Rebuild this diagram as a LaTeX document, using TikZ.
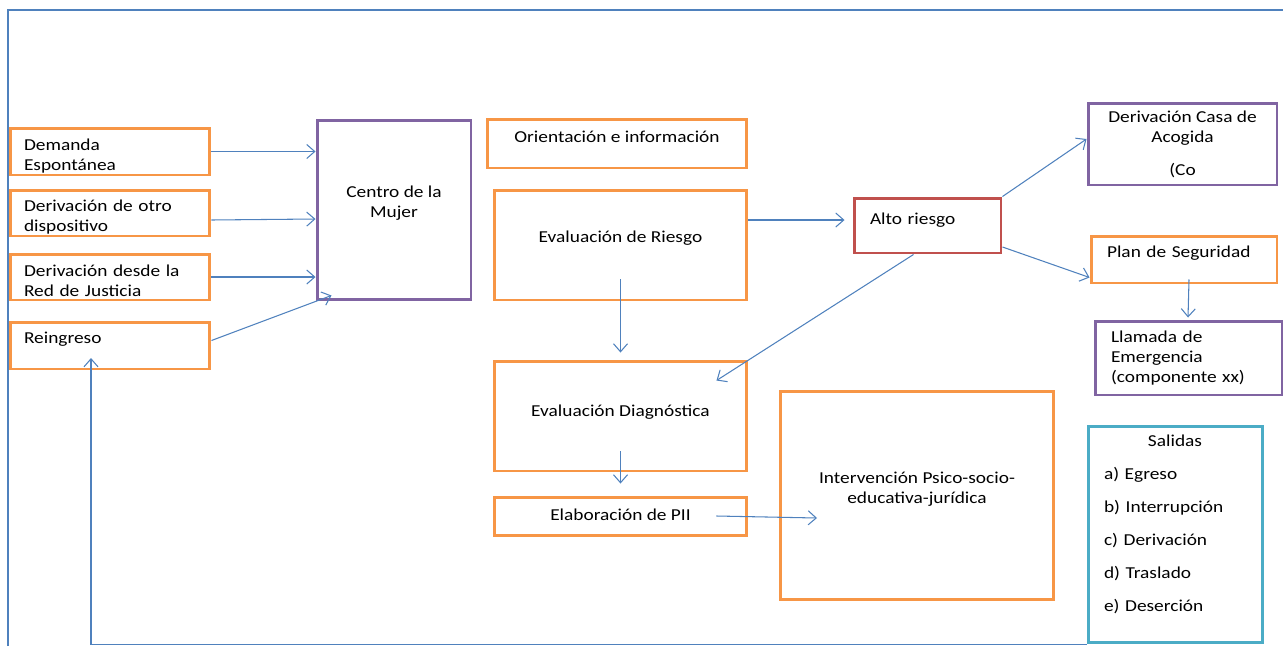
\documentclass[tikz,border=0pt]{standalone}
\usepackage{fontspec}
\setmainfont{Carlito}[FakeStretch=1.16]
\usepackage{tikz}
\usetikzlibrary{arrows.meta}
\definecolor{orangeC}{HTML}{F79646}
\definecolor{purpleC}{HTML}{8064A2}
\definecolor{redC}{HTML}{C0504D}
\definecolor{cyanC}{HTML}{4BACC6}
\definecolor{blueC}{HTML}{4F81BD}
\begin{document}
\begin{tikzpicture}[x=0.02cm, y=-0.02cm,
    font={\fontsize{9.5}{11.4}\selectfont},
    box/.style={draw, line width=1.7pt, inner sep=0pt},
    lbox/.style={box, align=left, inner xsep=0.3cm},
    obox/.style={box, draw=orangeC},
    lift/.style={text depth=#1},
    link/.style={blueC, line width=0.6pt, -{Straight Barb[length=1.6mm, width=2.8mm]}},
    frame/.style={blueC, line width=1pt}]
        \useasboundingbox (0,0) rectangle (1283,646) ;
        \draw[frame] (8,646) -- (8,10) -- (1283,10) ;
        \node[lbox, draw=orangeC, text width=3.44cm, inner xsep=0.28cm, minimum height=0.94cm, text height=0.4cm] (dem) at (110,151.5) {Demanda\\Espontánea} ;
        \node[lbox, draw=orangeC, text width=3.44cm, inner xsep=0.28cm, minimum height=0.92cm, text height=0.4cm] (otro) at (110,213) {Derivación de otro\\dispositivo} ;
        \node[lbox, draw=orangeC, text width=3.44cm, inner xsep=0.28cm, minimum height=0.92cm, text height=0.38cm] (just) at (110,277) {Derivación desde la\\Red de Justicia} ;
        \node[lbox, draw=orangeC, text width=3.44cm, inner xsep=0.28cm, minimum height=0.94cm, lift=0.32cm] (rein) at (110,345.5) {Reingreso} ;
        \node[box, draw=purpleC, align=center, minimum width=3.08cm, minimum height=3.6cm, lift=0.35cm] (centro) at (394,210) {Centro de la\\Mujer} ;
        \node[obox, minimum width=5.2cm, minimum height=0.98cm, lift=0.27cm] (orient) at (617,143.5) {Orientación e información} ;
        \node[obox, minimum width=5.06cm, minimum height=2.2cm, lift=0.33cm] (riesgo) at (620.5,245) {Evaluación de Riesgo} ;
        \node[obox, minimum width=5.06cm, minimum height=2.2cm, lift=0.22cm] (diag) at (620.5,416) {Evaluación Diagnóstica} ;
        \node[obox, minimum width=5.06cm, minimum height=0.76cm, lift=0.07cm] (pii) at (620.5,516) {Elaboración de PII} ;
        \node[obox, align=center, minimum width=5.48cm, minimum height=4.18cm, lift=0.32cm] (interv) at (917,495.5) {Intervención Psico-socio-\\educativa-jurídica} ;
        \node[lbox, draw=redC, text width=2.3cm, inner xsep=0.32cm, minimum height=1.1cm, lift=0.27cm] (alto) at (927.5,225.5) {Alto riesgo} ;
        \node[box, draw=purpleC, align=center, minimum width=3.78cm, minimum height=1.64cm] (casa) at (1182.5,144) {Derivación Casa de\\Acogida\\[0.26cm](Co} ;
        \node[lbox, draw=orangeC, text width=3.08cm, inner xsep=0.32cm, minimum height=0.94cm, lift=0.32cm] (plan) at (1184,259.5) {Plan de Seguridad} ;
        \node[lbox, draw=purpleC, text width=3.1cm, inner xsep=0.32cm, minimum height=1.48cm] (llam) at (1188.5,358) {Llamada de\\Emergencia\\(componente xx)} ;
        \node[lbox, draw=cyanC, text width=2.84cm, inner xsep=0.32cm, minimum height=4.34cm, lift=3.77cm] (sal) at (1175,534.5) {\makebox[\linewidth][c]{Salidas}\\[0.26cm]a) Egreso\\[0.26cm]b) Interrupción\\[0.26cm]c) Derivación\\[0.26cm]d) Traslado\\[0.26cm]e) Deserción} ;
        \coordinate (piiend) at (817,518) ;
        \coordinate (loopend) at (91,358) ;
        \draw[link] (dem.east) -- (dem.east -| centro.west) ;
        \draw[link] ([yshift=-0.14cm]otro.east) -- ([yshift=-0.12cm]otro.east -| centro.west) ;
        \draw[link] (just.east) -- (just.east -| centro.west) ;
        \draw[link] ([yshift=0.1cm]rein.east) -- ([xshift=0.32cm, yshift=0.12cm]centro.south west) ;
        \draw[link] ([yshift=0.11cm]alto.west -| riesgo.east) -- ([xshift=-0.16cm, yshift=0.11cm]alto.west) ;
        \draw[link] ([yshift=0.44cm]riesgo.south) -- ([yshift=0.14cm]diag.north) ;
        \draw[link] ([xshift=-0.28cm]alto.south) -- ([xshift=-0.64cm, yshift=-0.42cm]diag.north east) ;
        \draw[link] (alto.north east) -- ([yshift=0.1cm]casa.west) ;
        \draw[link] ([yshift=-0.43cm]alto.east) -- ([yshift=0.14cm]plan.south west) ;
        \draw[link] ([xshift=0.1cm, yshift=0.1cm]plan.south) -- ([xshift=0.08cm, yshift=0.04cm]plan.south |- llam.north) ;
        \draw[link] ([yshift=0.42cm]diag.south) -- ([yshift=0.24cm]pii.north) ;
        \draw[link] ([xshift=-0.64cm]pii.east) -- (piiend) ;
        \draw[link] (sal.south west) -| (loopend) ;
    \end{tikzpicture}
\end{document}
